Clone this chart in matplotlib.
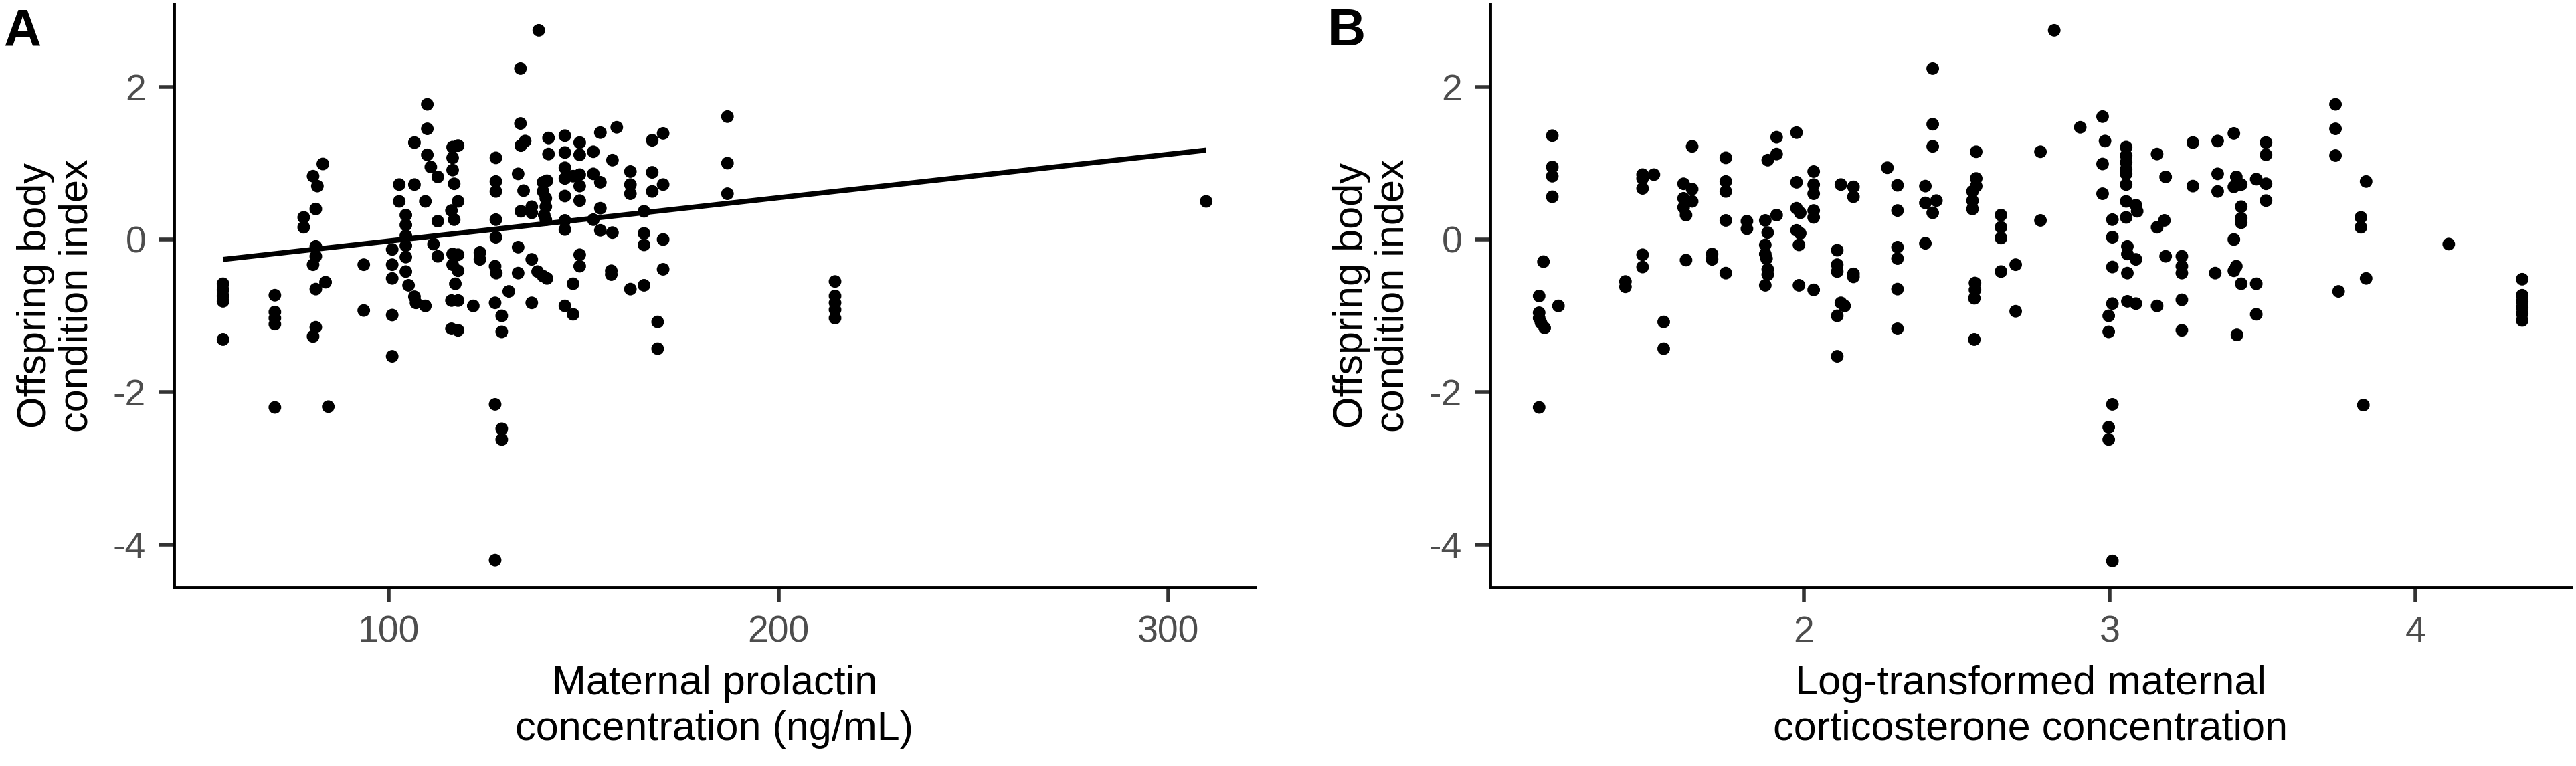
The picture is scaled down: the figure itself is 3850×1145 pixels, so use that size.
import matplotlib.pyplot as plt

plt.rcParams['font.family'] = ['Liberation Sans', 'DejaVu Sans']
plt.rcParams['axes.unicode_minus'] = False

# Panel A: maternal prolactin (ng/mL) vs offspring body condition index
prl_x = [57.5, 57.5, 57.5, 57.5, 57.5,
         70.8, 70.8, 70.8, 70.8, 70.8,
         83.1, 80.6, 81.7, 81.3, 78.2, 78.2, 81.3, 81.3, 80.6, 83.8, 81.3, 81.3, 80.6, 84.5,
         93.6, 93.6,
         100.9, 100.9, 100.9, 100.9, 100.9, 102.7, 102.7,
         104.4, 104.4, 104.4, 104.4, 104.4, 104.4, 105.1, 106.6, 106.6, 106.6, 107.0,
         138.5, 133.8,
         109.9, 109.9, 109.9, 110.8, 112.6, 109.4, 112.6, 111.5, 112.6, 109.4,
         116.4, 117.8, 116.4, 116.4, 116.8, 117.8, 116.1, 116.8, 116.4, 117.8, 116.4, 117.8,
         117.1, 116.1, 117.8, 116.1, 117.8,
         121.7, 123.4, 123.4,
         127.5, 127.5, 127.5, 127.5, 127.5, 127.3, 127.6, 127.3, 129.0, 129.0, 127.3, 129.0,
         129.0, 127.3,
         130.8,
         133.8, 135.0, 133.9, 133.2, 134.6, 133.9, 136.7, 136.7, 133.2, 133.2, 136.7, 136.7,
         138.2, 139.6, 140.6,
         139.6, 140.6, 139.6, 140.3, 140.3, 139.9, 140.3, 141.0, 141.0,
         145.2, 145.2, 145.2, 145.2, 145.2, 145.2, 145.2, 145.2,
         147.3, 147.3, 147.3,
         149.0, 149.0, 149.0, 149.0, 149.0, 149.0, 149.0,
         152.5, 152.5, 152.5, 154.3, 154.3, 154.3, 154.3,
         157.4, 157.4, 157.1, 157.1, 158.5,
         162.0, 162.0, 162.0, 162.0,
         165.5, 165.5, 165.5, 165.5,
         167.6, 167.6, 167.6, 170.4, 170.4, 170.4, 170.4, 169.0, 169.0,
         186.9, 186.9, 186.9,
         214.5, 214.5, 214.5, 214.5, 214.5,
         309.7]
prl_y = [-0.58, -0.66, -0.74, -0.81, -1.31,
         -0.73, -0.95, -1.03, -1.11, -2.20,
         0.99, 0.83, 0.70, 0.40, 0.29, 0.16, -0.09, -0.22, -0.33, -0.56, -0.65, -1.15, -1.27, -2.19,
         -0.33, -0.93,
         -0.13, -0.33, -0.51, -0.99, -1.53, 0.72, 0.50,
         0.32, 0.19, 0.05, -0.08, -0.23, -0.42, -0.60, 0.72, 1.27, -0.75, -0.83,
         2.74, 2.24,
         1.77, 1.45, 1.11, 0.95, 0.82, 0.50, 0.24, -0.06, -0.22, -0.87,
         1.21, 1.23, 1.07, 0.91, 0.73, 0.50, 0.38, 0.26, -0.19, -0.20, -0.33, -0.41,
         -0.58, -0.80, -0.80, -1.17, -1.19,
         -0.87, -0.17, -0.26,
         1.07, 0.76, 0.63, 0.26, 0.03, -0.35, -0.44, -0.83, -1.00, -1.21, -2.16, -2.48,
         -2.62, -4.20,
         -0.68,
         1.52, 1.29, 1.23, 0.86, 0.64, 0.37, 0.43, 0.35, -0.10, -0.44, -0.26, -0.83,
         -0.42, -0.48, -0.51,
         0.75, 0.77, 0.63, 0.54, 0.43, 0.32, 0.26, 1.33, 1.12,
         1.36, 1.14, 0.94, 0.80, 0.57, 0.25, 0.13, -0.87,
         0.83, -0.58, -0.98,
         1.27, 1.11, 0.85, 0.70, 0.51, -0.20, -0.35,
         1.15, 0.86, 0.26, 1.40, 0.75, 0.41, 0.12,
         1.04, 0.09, -0.41, -0.46, 1.47,
         0.89, 0.72, 0.60, -0.65,
         0.37, 0.08, -0.07, -0.60,
         1.30, 0.88, 0.63, 1.39, 0.72, 0.00, -0.39, -1.08, -1.43,
         1.61, 1.00, 0.60,
         -0.55, -0.74, -0.83, -0.92, -1.03,
         0.50]

# fitted line
fit_intercept = -0.588
fit_slope = 0.00568

# Panel B: log-transformed maternal corticosterone vs offspring body condition index
cort_x = [1.179, 1.179, 1.179, 1.179, 1.150, 1.136, 1.199, 1.136, 1.136, 1.142, 1.154, 1.136,
          1.418, 1.418,
          1.474, 1.511, 1.474, 1.474, 1.474, 1.474,
          1.543, 1.543,
          1.636, 1.608, 1.636, 1.608, 1.636, 1.608, 1.616, 1.616,
          1.701, 1.701,
          1.746, 1.746, 1.746, 1.746, 1.746,
          1.815, 1.815,
          1.883, 1.912, 1.912, 1.875, 1.912, 1.883, 1.875, 1.875, 1.879, 1.883, 1.883, 1.875,
          1.977, 1.977, 1.977, 1.989, 1.977, 1.989, 1.985, 1.985,
          2.033, 2.033, 2.033, 2.033, 2.033, 2.033,
          2.122, 2.163, 2.163, 2.110, 2.110, 2.110, 2.163, 2.163, 2.122, 2.134, 2.110, 2.110,
          2.274, 2.307, 2.307, 2.307, 2.307, 2.307, 2.307,
          2.422, 2.422, 2.422, 2.398, 2.398, 2.434, 2.422, 2.398,
          2.564, 2.564, 2.564, 2.552, 2.552, 2.552, 2.560, 2.560, 2.558, 2.558,
          2.645, 2.645, 2.645, 2.645, 2.693, 2.693,
          2.774, 2.774, 2.819, 2.904,
          2.977, 2.985, 2.977, 2.977,
          3.054, 3.054, 3.054, 3.054, 3.054, 3.054, 3.054, 3.086, 3.090, 3.054,
          3.009, 3.009, 3.058, 3.058, 3.086, 3.009, 3.058,
          3.009, 3.058, 3.086, 2.997, 2.997, 3.009, 2.997, 2.997, 3.009,
          3.155, 3.183, 3.179, 3.155, 3.183, 3.155,
          3.236, 3.236, 3.236, 3.236, 3.236,
          3.272, 3.272, 3.353, 3.406, 3.353, 3.353, 3.414, 3.406, 3.430, 3.479, 3.511, 3.511,
          3.511, 3.511, 3.430, 3.430, 3.430, 3.406, 3.414, 3.406, 3.345, 3.430, 3.479, 3.479,
          3.416,
          3.738, 3.738, 3.738, 3.748,
          3.838, 3.821, 3.821, 3.838, 3.829,
          4.108,
          4.348, 4.348, 4.348, 4.348, 4.348, 4.348]
cort_y = [1.36, 0.95, 0.83, 0.56, -0.29, -0.74, -0.87, -0.96, -1.03, -1.09, -1.16, -2.20,
          -0.55, -0.62,
          0.85, 0.85, 0.80, 0.67, -0.20, -0.36,
          -1.08, -1.43,
          1.22, 0.73, 0.66, 0.54, 0.50, 0.42, 0.32, -0.27,
          -0.19, -0.26,
          1.07, 0.76, 0.63, 0.25, -0.44,
          0.24, 0.14,
          1.04, 1.12, 1.34, 0.25, 0.32, 0.09, -0.07, -0.19, -0.25, -0.39, -0.46, -0.60,
          1.40, 0.75, 0.41, 0.35, 0.12, 0.08, -0.07, -0.60,
          0.89, 0.72, 0.60, 0.38, 0.29, -0.66,
          0.72, 0.69, 0.56, -0.14, -0.33, -0.42, -0.45, -0.49, -0.83, -0.87, -1.00, -1.53,
          0.94, 0.71, 0.38, -0.10, -0.25, -0.65, -1.17,
          2.24, 1.51, 1.22, 0.70, 0.48, 0.51, 0.35, -0.05,
          1.15, 0.80, 0.70, 0.63, 0.51, 0.40, -0.57, -0.66, -0.77, -1.31,
          0.32, 0.16, 0.02, -0.42, -0.33, -0.94,
          1.15, 0.25, 2.74, 1.47,
          1.61, 1.29, 0.99, 0.60,
          1.21, 1.10, 1.01, 0.92, 0.86, 0.72, 0.50, 0.45, 0.37, 0.29,
          0.26, 0.03, -0.09, -0.19, -0.26, -0.36, -0.44,
          -0.84, -0.81, -0.84, -1.00, -1.21, -2.16, -2.46, -2.62, -4.21,
          1.12, 0.82, 0.25, 0.16, -0.22, -0.87,
          -0.22, -0.35, -0.44, -0.79, -1.19,
          1.27, 0.70, 1.29, 1.39, 0.86, 0.63, 0.82, 0.69, 0.72, 0.79, 0.73, 1.27,
          1.11, 0.51, 0.43, 0.28, 0.22, 0.00, -0.35, -0.41, -0.44, -0.58, -0.58, -0.98,
          -1.25,
          1.77, 1.45, 1.10, -0.68,
          0.76, 0.29, 0.16, -0.51, -2.17,
          -0.06,
          -0.52, -0.73, -0.81, -0.89, -0.97, -1.06]

y_ticks = [-4, -2, 0, 2]
prl_ticks = [100, 200, 300]
cort_ticks = [2, 3, 4]

TICK_GREY = '#4D4D4D'

fig = plt.figure(figsize=(38.5, 11.45), dpi=100)
axA = fig.add_axes([0.0675, 0.2332, 0.4198, 0.7618])
axB = fig.add_axes([0.5784, 0.2332, 0.4198, 0.7618])


def style(ax):
    for side in ('top', 'right'):
        ax.spines[side].set_visible(False)
    for side in ('left', 'bottom'):
        ax.spines[side].set_linewidth(3.5)
        ax.spines[side].set_color('black')
    ax.tick_params(length=16, width=4, color='#333333', labelcolor=TICK_GREY,
                   labelsize=40, pad=14)
    ax.set_yticks(y_ticks)
    ax.set_ylabel('Offspring body\ncondition index', fontsize=44, labelpad=18,
                  linespacing=1.1)


axA.scatter(prl_x, prl_y, s=185, color='black', edgecolors='none', zorder=3)
lx = [min(prl_x), max(prl_x)]
axA.plot(lx, [fit_intercept + fit_slope * v for v in lx], color='black', lw=5.5,
         solid_capstyle='butt', zorder=4)
style(axA)
axA.set_xticks(prl_ticks)
axA.set_xlabel('Maternal prolactin\nconcentration (ng/mL)', fontsize=44, labelpad=16,
               linespacing=1.25)

axB.scatter(cort_x, cort_y, s=185, color='black', edgecolors='none', zorder=3)
style(axB)
axB.set_xticks(cort_ticks)
axB.set_xlabel('Log-transformed maternal\ncorticosterone concentration', fontsize=44,
               labelpad=16, linespacing=1.25)

ylo = min(prl_y + cort_y)
yhi = max(prl_y + cort_y)
pad = 0.05 * (yhi - ylo)
for ax in (axA, axB):
    ax.set_ylim(ylo - pad, yhi + pad)

fig.text(0.0013, 0.99, 'A', fontsize=56, fontweight='bold', va='top', ha='left')
fig.text(0.5155, 0.99, 'B', fontsize=56, fontweight='bold', va='top', ha='left')

fig.savefig('out.png', dpi=100, facecolor='white')
